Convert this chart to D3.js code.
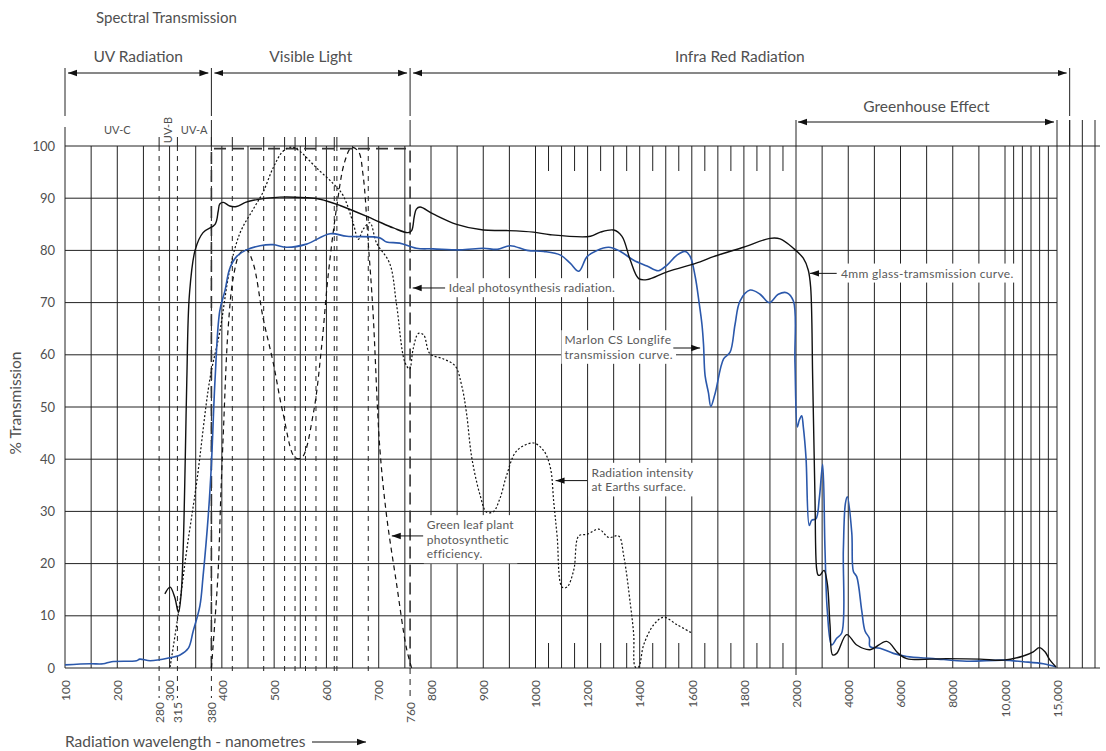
<!DOCTYPE html>
<html>
<head>
<meta charset="utf-8">
<script src="https://cdn.jsdelivr.net/npm/d3@7"></script>
<style>
  body { margin: 0; background: #fff; }
  text { font-family: Lato, "Open Sans", sans-serif; font-weight: 400; fill: #505050; }
</style>
</head>
<body>
<div id="chart"></div>
<script>
////////////////////////////////////////////////////////////////////////
// Data: [wavelength nm, % transmission]

let glassCurve = [
  [291,14.2],[301,15.5],[310,13.5],[317,10.6],[322,14],[326,22.7],[330,40],[333,55.3],[338,71.6],
  [349,80.1],[364,83.4],[387,85],[393,87.5],[396,88.9],[403,89.2],[415,88.5],[428,88.4],[445,89.2],
  [460,89.6],[511,90.2],[560,90.1],[588,89.8],[626,88.6],[689,86],[728,84.3],[756,83.4],[763,83.8],
  [768,86.5],[772,87.9],[779,88.3],[804,87],[849,85],[900,83.9],[945,83.8],[996,83.5],[1057,83],
  [1211,82.7],[1249,83.5],[1300,83.9],[1332,82.7],[1364,78.1],[1396,74.6],[1428,74.4],[1505,75.9],
  [1632,77.8],[1683,78.8],[1798,80.6],[1900,82.3],[1939,82.2],[1990,80.4],[2279,78.5],[2471,76.2],
  [2562,72.9],[2639,55.3],[2727,32.5],[2790,19],[2850,17.8],[2919,17.8],[3072,18.7],[3198,16.2],
  [3301,8.3],[3405,2.5],[3558,2.8],[3941,6.4],[4324,4.4],[4833,3.5],[5472,5.1],[5916,2.8],
  [6237,1.8],[7769,1.8],[9044,1.7],[9936,1.5],[11760,2.3],[12721,3.1],[13298,3.9],[13846,3.1],
  [14327,1.5],[14904,0.2]
];

let marlonCurve = [
  [100,0.6],[148,0.8],[173,0.8],[189,1.2],[237,1.4],[243,1.7],[263,1.4],[298,1.9],[320,2.5],
  [336,3.8],[345,7],[358,11.9],[364,17.5],[374,29.2],[380,39],[387,55.3],[396,68.4],[406,72.3],
  [415,76.5],[428,78.8],[447,80.1],[473,80.9],[498,81.1],[524,80.6],[562,81.2],[607,83.2],
  [639,82.7],[702,82.4],[715,81.6],[740,81.4],[772,80.4],[804,80.3],[856,80.1],[900,80.4],
  [927,80.2],[952,80.9],[984,80],[1032,79.8],[1096,79.1],[1134,77.5],[1166,76],[1198,78.8],
  [1236,80],[1281,80.6],[1326,79.8],[1377,78.1],[1428,77],[1472,76.1],[1505,77.2],[1543,79.1],
  [1575,79.8],[1594,78.8],[1613,75],[1628,70],[1639,65.8],[1645,62],[1651,56],[1664,52.7],
  [1673,50.1],[1690,52.7],[1722,59.2],[1747,60.5],[1766,65.8],[1785,70.3],[1824,72.4],[1862,71.6],
  [1897,70],[1932,71.6],[1964,71.9],[1990,70.3],[1996,58.6],[2051,46.2],[2127,47.5],[2218,48.3],
  [2280,46.2],[2383,40.3],[2509,27.3],[2601,28.3],[2766,28.6],[2892,32.5],[3021,39],[3110,22.7],
  [3198,11],[3366,4.4],[3558,5.7],[3749,6.7],[3813,22.7],[3890,31.5],[3966,32.8],[4135,25.9],
  [4197,18.5],[4324,17.5],[4516,11],[4642,7.1],[4807,5.7],[4833,4.1],[5216,3.8],[5726,2.8],
  [6237,2.2],[7258,1.8],[8534,1.3],[9936,1.5],[11760,1.2],[13683,0.8],[14904,0.2]
];

let radiationCurve = [
  [301,0.2],[317,10.6],[333,22.7],[352,35.7],[377,55.3],[396,64.4],[415,76.2],[435,83.4],
  [460,87.9],[479,91.2],[498,95.8],[517,99],[533,99.8],[549,99],[581,95.8],[613,92.8],[632,90.5],
  [651,85.3],[661,82.1],[670,84],[683,85.3],[696,81.4],[721,77.5],[734,69.7],[750,58.6],[759,57.3],
  [766,61.2],[776,64.1],[786,63.8],[798,60.2],[824,59.2],[846,57.9],[859,54],[868,48.8],[878,40.3],
  [894,33.1],[906,29.9],[919,29.9],[932,32.5],[945,37],[964,41.6],[996,43.1],[1032,41.6],
  [1057,38.4],[1070,31.8],[1083,25.3],[1102,15.5],[1121,15.5],[1147,18.8],[1166,25.3],[1198,25.6],
  [1243,26.6],[1281,25],[1319,25.3],[1339,21.4],[1364,12.3],[1377,6.4],[1383,0.2],[1396,0.2],
  [1415,4.4],[1454,8.3],[1492,9.7],[1543,8.3],[1600,6.7]
];

let leafCurve = [
  [380,0],[386,8],[393,18.7],[398,33],[403,45.5],[412,65],[422,74.9],[435,79.5],[447,80.1],
  [460,77.5],[479,67],[498,58.6],[517,48.8],[540,40.3],[553,40.3],[575,48.8],[591,61.8],
  [603,74.9],[619,87.9],[635,97],[648,99.7],[661,99],[670,94.5],[680,81.4],[689,68.4],[702,42.3],
  [715,29.2],[734,16.2],[753,3.8],[763,0]
];

let idealCurve = [[380,0],[380,99.5],[760,99.5],[760,0]];

// axis ticks
let yTicks = [0,10,20,30,40,50,60,70,80,90,100];
let xTicks = [100,200,300,400,500,600,700,800,900,1000,1200,1400,1600,1800,2000,4000,6000,8000,10000,15000];
let xTickLabels = ["100","200","300","400","500","600","700","800","900","1000","1200","1400","1600","1800","2000","4000","6000","8000","10,000","15,000"];
let markTicks = [280,315,380,760];

// grid
let gridLines = [100,150,200,250,300,350,400,450,500,550,600,650,700,750,800,850,900,950,1000,
  1100,1200,1300,1400,1500,1600,1700,1800,1900,2000,3000,4000,5000,6000,7000,8000,9000,10000,
  10830,11670,12500,13330,14170,15000];
let halfGridLines = [1050,1150,1250,1350,1450,1550,1650,1750,1850,1950];
let dashedLines = [280,315,380,420,480,520,540,560,580,615,620,680];
let outerLines = [16000,17000,18000];

// bands above the plot
let bands = [
  {label: "UV Radiation", from: 100, to: 380},
  {label: "Visible Light", from: 380, to: 760},
  {label: "Infra Red Radiation", from: 760, to: 16000}
];
let greenhouse = {label: "Greenhouse Effect", from: 2000, to: 15000};
let uvBands = [
  {label: "UV-C", nm: 200, rotate: false},
  {label: "UV-B", nm: 297, rotate: true},
  {label: "UV-A", nm: 347, rotate: false}
];

// callouts: arrow from text side to the curve
let callouts = [
  {lines: ["Ideal photosynthesis radiation."], textNm: 834, pct: 72.8, fromNm: 827, toNm: 765, spacing: 0.2},
  {lines: ["Marlon CS Longlife", "transmission curve."], textNm: 1111, pct: 61.3, fromNm: 1529, toNm: 1632, spacing: 0.4},
  {lines: ["Radiation intensity", "at Earths surface."], textNm: 1215, pct: 35.9, fromNm: 1198, toNm: 1077, spacing: 0.2},
  {lines: ["Green leaf plant", "photosynthetic", "efficiency."], textNm: 792, pct: 25.3, fromNm: 785, toNm: 725, spacing: 0.2},
  {lines: ["4mm glass-tramsmission curve."], textNm: 3723, pct: 75.6, fromNm: 3558, toNm: 2536, spacing: 0.3}
];

////////////////////////////////////////////////////////////////////////

let width = 1106;
let height = 751;

let svg = d3.select("#chart")
  .append("svg")
  .attr("width", width).attr("height", height);

// wavelength axis is stretched in pieces
let xScale = d3.scaleLinear()
  .domain([100, 800, 1000, 2000, 10000, 15000, 18000])
  .range([65, 431, 535.5, 796, 1005, 1057, 1095]);

let yScale = d3.scaleLinear()
  .domain([0, 100])
  .range([668, 146]);

let plotTop = yScale(100), plotBottom = yScale(0);

// arrow heads
let defs = svg.append("defs");
defs.append("marker")
  .attr("id", "head")
  .attr("viewBox", "0 -4 9 8")
  .attr("refX", 9).attr("refY", 0)
  .attr("markerUnits", "userSpaceOnUse")
  .attr("markerWidth", 9).attr("markerHeight", 8)
  .attr("orient", "auto-start-reverse")
  .append("path")
  .attr("d", "M0,-3.2L9,0L0,3.2Z")
  .attr("fill", "#111");

let grid = svg.append("g").attr("stroke", "#222").attr("stroke-width", 1);

// horizontal grid
grid.selectAll(".hline")
  .data(yTicks)
  .enter()
  .append("line")
  .attr("class", "hline")
  .attr("x1", xScale(100))
  .attr("x2", (d) => (d == 0 || d == 100) ? 1100 : xScale(15000))
  .attr("y1", (d) => yScale(d)).attr("y2", (d) => yScale(d));

// vertical grid
grid.selectAll(".vline")
  .data(gridLines)
  .enter()
  .append("line")
  .attr("class", "vline")
  .attr("x1", (d) => xScale(d)).attr("x2", (d) => xScale(d))
  .attr("y1", plotTop).attr("y2", (d) => d == 2000 ? plotBottom + 7 : plotBottom);

// short ticks at the odd 50s between 1000 and 2000
halfGridLines.forEach(function(d) {
  grid.append("line")
    .attr("x1", xScale(d)).attr("x2", xScale(d))
    .attr("y1", plotTop).attr("y2", plotTop + 25);
  grid.append("line")
    .attr("x1", xScale(d)).attr("x2", xScale(d))
    .attr("y1", plotBottom - 25).attr("y2", plotBottom);
});

// lines past 15,000
grid.selectAll(".oline")
  .data(outerLines)
  .enter()
  .append("line")
  .attr("x1", (d) => xScale(d)).attr("x2", (d) => xScale(d))
  .attr("y1", 120).attr("y2", plotBottom);

// band dividers above the plot
[100, 380, 760, 16000].forEach(function(d) {
  grid.append("line")
    .attr("x1", xScale(d)).attr("x2", xScale(d))
    .attr("y1", 68).attr("y2", 116);
  grid.append("line")
    .attr("x1", xScale(d)).attr("x2", xScale(d))
    .attr("y1", d == 100 ? 127 : 120).attr("y2", plotTop);
});
[2000, 15000].forEach(function(d) {
  grid.append("line")
    .attr("x1", xScale(d)).attr("x2", xScale(d))
    .attr("y1", 120).attr("y2", plotTop);
});

// dashed marker lines
svg.append("g")
  .selectAll("line")
  .data(dashedLines)
  .enter()
  .append("line")
  .attr("x1", (d) => xScale(d)).attr("x2", (d) => xScale(d))
  .attr("y1", plotTop).attr("y2", (d) => markTicks.includes(d) ? plotBottom + 30 : plotBottom + 8)
  .attr("stroke", "#222").attr("stroke-width", 1)
  .attr("stroke-dasharray", "5,5");

svg.append("g")
  .selectAll("line")
  .data(dashedLines)
  .enter()
  .append("line")
  .attr("x1", (d) => xScale(d)).attr("x2", (d) => xScale(d))
  .attr("y1", plotTop - 9).attr("y2", plotTop)
  .attr("stroke", "#222").attr("stroke-width", 1);

svg.append("line")
  .attr("x1", xScale(760)).attr("x2", xScale(760))
  .attr("y1", plotBottom).attr("y2", plotBottom + 30)
  .attr("stroke", "#222").attr("stroke-dasharray", "6,5");

////////////////////////////////////////////////////////////////////////
// Curves

let smooth = d3.line()
  .x((d) => xScale(d[0]))
  .y((d) => yScale(d[1]))
  .curve(d3.curveCatmullRom.alpha(0.5));

let straight = d3.line()
  .x((d) => xScale(d[0]))
  .y((d) => yScale(d[1]));

svg.append("path")
  .attr("d", straight(idealCurve))
  .attr("fill", "none").attr("stroke", "#333").attr("stroke-width", 1.6)
  .attr("stroke-dasharray", "12,6");

svg.append("path")
  .attr("d", smooth(leafCurve))
  .attr("fill", "none").attr("stroke", "#111").attr("stroke-width", 1.2)
  .attr("stroke-dasharray", "5,4");

svg.append("path")
  .attr("d", smooth(radiationCurve))
  .attr("fill", "none").attr("stroke", "#111").attr("stroke-width", 1.2)
  .attr("stroke-dasharray", "2,2");

svg.append("path")
  .attr("d", smooth(marlonCurve))
  .attr("fill", "none").attr("stroke", "#2b58ab").attr("stroke-width", 1.6);

svg.append("path")
  .attr("d", smooth(glassCurve))
  .attr("fill", "none").attr("stroke", "#111").attr("stroke-width", 1.4);

////////////////////////////////////////////////////////////////////////
// Axes

let yAxis = d3.axisLeft(yScale).tickValues(yTicks).tickSize(0).tickPadding(10);
svg.append("g")
  .attr("transform", "translate(" + xScale(100) + ",0)")
  .call(yAxis)
  .call((g) => g.select(".domain").remove())
  .selectAll("text")
  .style("font-size", "13px").style("font-family", null);

let xAxis = d3.axisBottom(xScale).tickValues(xTicks).tickSize(0)
  .tickFormat((d, i) => xTickLabels[i]);
svg.append("g")
  .attr("transform", "translate(0," + plotBottom + ")")
  .call(xAxis)
  .call((g) => g.select(".domain").remove())
  .selectAll("text")
  .attr("transform", "rotate(-90)")
  .attr("x", -12).attr("y", 0).attr("dy", "0.35em")
  .style("text-anchor", "end")
  .style("font-size", "12px").style("font-family", null);

let markAxis = d3.axisBottom(xScale).tickValues(markTicks).tickSize(0);
svg.append("g")
  .attr("transform", "translate(0," + plotBottom + ")")
  .call(markAxis)
  .call((g) => g.select(".domain").remove())
  .selectAll("text")
  .attr("transform", "rotate(-90)")
  .attr("x", -34).attr("y", 0).attr("dy", "0.35em")
  .style("text-anchor", "end")
  .style("font-size", "12px").style("font-family", null);

svg.append("text")
  .attr("transform", "translate(21," + (yScale(50) - 4) + ") rotate(-90)")
  .style("text-anchor", "middle")
  .style("font-size", "15.5px")
  .text("% Transmission");

svg.append("text")
  .attr("x", xScale(100)).attr("y", 747)
  .style("font-size", "15.5px")
  .text("Radiation wavelength - nanometres");

svg.append("line")
  .attr("x1", 312).attr("x2", 366)
  .attr("y1", 742).attr("y2", 742)
  .attr("stroke", "#111").attr("stroke-width", 1)
  .attr("marker-end", "url(#head)");

////////////////////////////////////////////////////////////////////////
// Headings

svg.append("text")
  .attr("x", 96).attr("y", 23)
  .style("font-size", "15px")
  .text("Spectral Transmission");

svg.selectAll(".band")
  .data(bands)
  .enter()
  .append("text")
  .attr("class", "band")
  .attr("x", (d) => (xScale(d.from) + xScale(d.to)) / 2)
  .attr("y", 62)
  .style("text-anchor", "middle")
  .style("font-size", "15.5px")
  .text((d) => d.label);

svg.selectAll(".bandArrow")
  .data(bands)
  .enter()
  .append("line")
  .attr("x1", (d) => xScale(d.from) + 3).attr("x2", (d) => xScale(d.to) - 3)
  .attr("y1", 73).attr("y2", 73)
  .attr("stroke", "#111").attr("stroke-width", 1)
  .attr("marker-start", "url(#head)").attr("marker-end", "url(#head)");

svg.append("text")
  .attr("x", (xScale(greenhouse.from) + xScale(greenhouse.to)) / 2)
  .attr("y", 112)
  .style("text-anchor", "middle")
  .style("font-size", "15.5px")
  .text(greenhouse.label);

svg.append("line")
  .attr("x1", xScale(greenhouse.from) + 2).attr("x2", xScale(greenhouse.to) - 3)
  .attr("y1", 122).attr("y2", 122)
  .attr("stroke", "#111").attr("stroke-width", 1)
  .attr("marker-start", "url(#head)").attr("marker-end", "url(#head)");

svg.selectAll(".uv")
  .data(uvBands)
  .enter()
  .append("text")
  .attr("class", "uv")
  .attr("transform", (d) => "translate(" + xScale(d.nm) + ",130)" + (d.rotate ? " rotate(-90)" : ""))
  .attr("dy", "0.35em")
  .style("text-anchor", "middle")
  .style("font-size", "11px")
  .text((d) => d.label);

////////////////////////////////////////////////////////////////////////
// Callouts

let lineGap = 14.6;
callouts.forEach(function(c) {
  let g = svg.append("g");
  let n = c.lines.length;
  let y0 = yScale(c.pct);
  if (n == 2) y0 = yScale(c.pct) - 8;
  if (n == 3) y0 = yScale(c.pct) - 11;
  let bg = g.append("rect").attr("fill", "#fff");
  let t = g.append("text")
    .attr("x", xScale(c.textNm))
    .style("font-size", "12px")
    .style("letter-spacing", c.spacing + "px")
    .style("fill", "#5a5a5a");
  c.lines.forEach(function(s, i) {
    t.append("tspan")
      .attr("x", xScale(c.textNm))
      .attr("y", y0 + i * lineGap)
      .attr("dy", "0.35em")
      .text(s);
  });
  let b = t.node().getBBox();
  bg.attr("x", b.x - 3).attr("y", b.y - 2)
    .attr("width", b.width + 6).attr("height", b.height + 4);
  svg.append("line")
    .attr("x1", xScale(c.fromNm)).attr("x2", xScale(c.toNm))
    .attr("y1", yScale(c.pct)).attr("y2", yScale(c.pct))
    .attr("stroke", "#111").attr("stroke-width", 1)
    .attr("marker-end", "url(#head)");
});
</script>
</body>
</html>
